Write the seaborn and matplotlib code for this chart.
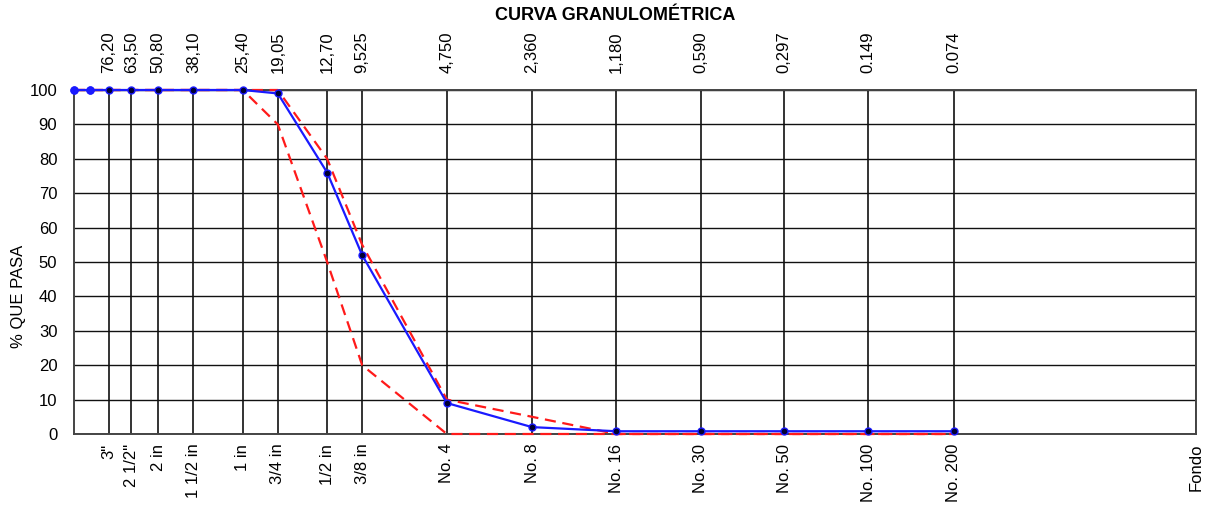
import matplotlib
matplotlib.use('Agg')
import matplotlib.pyplot as plt
from matplotlib.ticker import NullLocator
import pandas as pd
import seaborn as sns

# sieve openings (mm) and names
sieve_mm = [76.20, 63.50, 50.80, 38.10, 25.40, 19.05, 12.70, 9.525,
            4.750, 2.360, 1.180, 0.590, 0.297, 0.149, 0.074]
sieve_names = ['3"', '2 1/2"', '2 in', '1 1/2 in', '1 in', '3/4 in', '1/2 in', '3/8 in',
               'No. 4', 'No. 8', 'No. 16', 'No. 30', 'No. 50', 'No. 100', 'No. 200']
top_labels = ['76,20', '63,50', '50,80', '38,10', '25,40', '19,05', '12,70', '9,525',
              '4,750', '2,360', '1,180', '0,590', '0,297', '0.149', '0.074']
fondo_mm = 0.0101

# sample curve (includes 4" and 3 1/2")
sample_mm = [101.6, 88.9] + sieve_mm
sample_pass = [100, 100, 100, 100, 100, 100, 100, 99, 76, 52, 9, 2, 0.8, 0.8, 0.8, 0.8, 0.8]

# spec limits
limit_mm = [101.6, 88.9] + sieve_mm
upper_pass = [100, 100, 100, 100, 100, 100, 100, 100, 80, 55, 10, 5, 0, 0, 0, 0, 0]
lower_pass = [100, 100, 100, 100, 100, 100, 100, 90, 50, 20, 0, 0, 0, 0, 0, 0, 0]

sample = pd.DataFrame({'mm': sample_mm, 'pasa': sample_pass})
limits = pd.DataFrame({'mm': limit_mm, 'sup': upper_pass, 'inf': lower_pass})

sns.set_style('white')
plt.rcParams['font.family'] = ['Liberation Sans', 'DejaVu Sans']
plt.rcParams['text.color'] = 'black'
plt.rcParams['axes.labelcolor'] = 'black'
plt.rcParams['xtick.color'] = 'black'
plt.rcParams['ytick.color'] = 'black'

fig = plt.figure(figsize=(12.1, 5.07), dpi=100)
ax = fig.add_axes([74 / 1210, 1 - 434 / 507, 1122 / 1210, 344 / 507])

sns.lineplot(data=limits, x='mm', y='sup', ax=ax, color='#ff1a1a', lw=1.6,
             linestyle=(0, (5, 3)), sort=False, zorder=3, clip_on=False)
sns.lineplot(data=limits, x='mm', y='inf', ax=ax, color='#ff1a1a', lw=1.6,
             linestyle=(0, (5, 3)), sort=False, zorder=3, clip_on=False)
sns.lineplot(data=sample, x='mm', y='pasa', ax=ax, color='#1a1aff', lw=1.6, sort=False,
             marker='o', markersize=5, markerfacecolor='#000033', markeredgecolor='#1a1aff',
             markeredgewidth=1, zorder=4, clip_on=False)
ax.plot(sample['mm'][:2], sample['pasa'][:2], 'o', ms=5, color='#1a1aff', zorder=5,
        clip_on=False)

ax.set_xscale('log')
ax.set_xlim(101.6, fondo_mm)
ax.set_ylim(0, 100)
ax.set_yticks(range(0, 101, 10))
ax.set_xticks(sieve_mm + [fondo_mm])
ax.set_xticklabels(sieve_names + ['Fondo'], rotation=90, fontsize=12)
ax.xaxis.set_minor_locator(NullLocator())
ax.tick_params(axis='both', length=0, labelsize=12)
ax.tick_params(axis='x', pad=7)
ax.tick_params(axis='y', pad=12)

ax.grid(axis='x', color='#333333', lw=1.4)
ax.grid(axis='y', color='#111111', lw=1.0)
ax.set_axisbelow(True)
for s in ax.spines.values():
    s.set_color('#444444')
    s.set_linewidth(1.4)

ax.set_xlabel('')
ax.set_ylabel('% QUE PASA', fontsize=12)
ax.yaxis.set_label_coords(-0.043, 0.40)

top = ax.secondary_xaxis('top')
top.set_xticks(sieve_mm)
top.set_xticklabels(top_labels, rotation=90, fontsize=12)
top.xaxis.set_minor_locator(NullLocator())
top.tick_params(length=0, pad=12)
top.spines['top'].set_visible(False)

fig.text(615 / 1210, 1 - 16 / 507, 'CURVA GRANULOMÉTRICA', ha='center', va='center',
         fontsize=13, fontweight='bold')

fig.savefig('out.png', dpi=100)
